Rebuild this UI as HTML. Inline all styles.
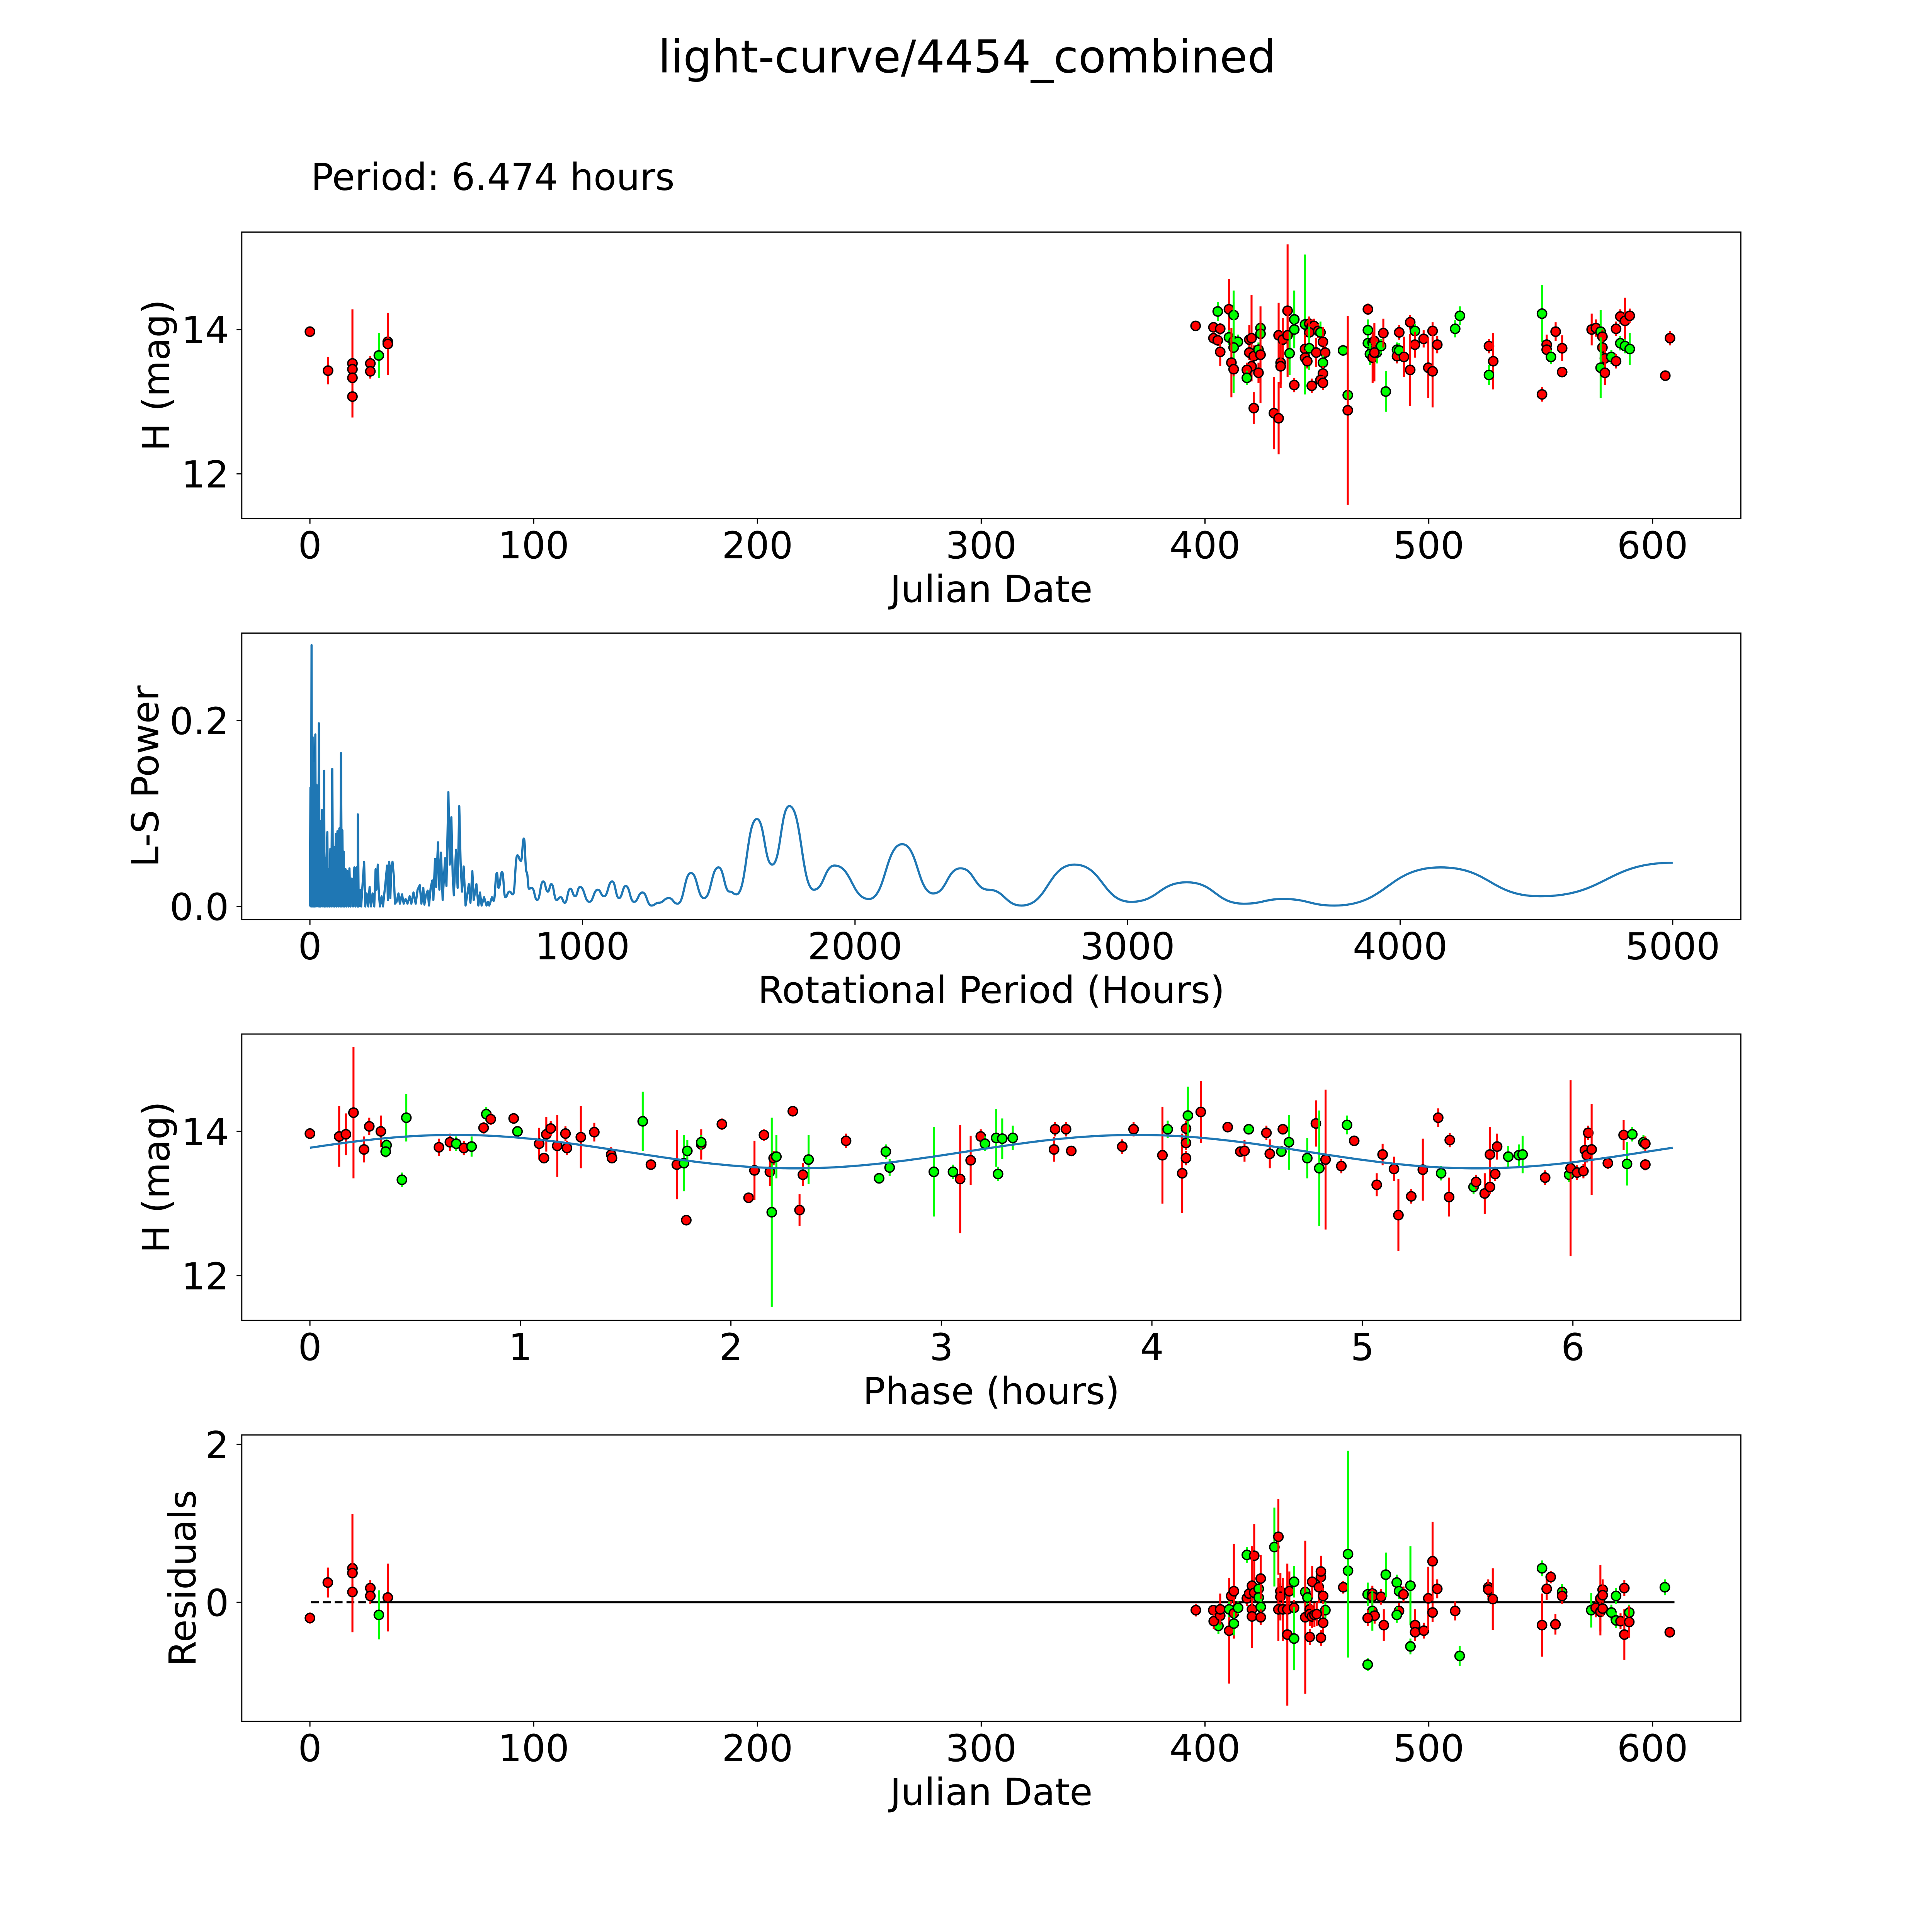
<!DOCTYPE html>
<html>
<head>
<meta charset="utf-8">
<style>
  html,body{margin:0;padding:0;background:#fff;width:5400px;height:5400px;overflow:hidden;}
  svg{display:block;overflow:hidden;}
  text{font-family:"DejaVu Sans","Liberation Sans",sans-serif;fill:#000;}
</style>
</head>
<body>
<svg id="fig" xmlns="http://www.w3.org/2000/svg" width="5400" height="5400" viewBox="0 0 5400 5400">
  <rect x="0" y="0" width="5400" height="5400" fill="#fff"/>
  <defs id="defs"><clipPath id="pageclip"><rect x="0" y="0" width="5400" height="5400"/></clipPath></defs>
  <g clip-path="url(#pageclip)">
  <g id="root" transform="scale(0.927)">
    <text x="2700" y="202" font-size="126" text-anchor="middle">light-curve/4454_combined</text>
    <text x="868" y="530" font-size="104">Period: 6.474 hours</text>
  </g>
  </g>
</svg>
<script>
// ---------------- DATA ----------------
// Panel 1: H magnitude vs Julian Date
const jdDates = [0,8.1,19,19,19,19,27,27,30.8,34.8,34.8,
395.8,403.8,405.7,406.8,403.8,405.7,406.8,410.7,412.8,410.7,412.8,414.7,412.8,411.8,412.8,419.8,420.8,419.8,421.8,420.8,418.7,418.7,421.8,424.8,424.8,423.9,424.8,423.9,430.8,432.9,432.9,434.8,436.9,436.9,433.8,433.8,437.8,439.9,439.9,439.9,444.7,446.6,447.7,448.7,446.6,444.7,446.6,444.7,445.7,449.7,450.6,451.6,452.7,453.7,452.7,452.7,451.6,452.7,447.7,461.7,463.8,463.8,472.8,472.8,472.8,474.9,475.7,473.7,474.9,476.8,475.7,478.7,479.7,480.8,485.8,486.8,485.8,486.8,488.9,491.7,493.8,493.8,491.7,497.7,499.8,501.7,501.7,503.8,511.8,513.9,526.9,528.8,526.9,550.6,550.6,552.7,552.7,554.6,556.7,559.6,559.6,572.8,574.7,576.8,577.6,577.6,578.7,576.8,578.7,581.6,583.7,583.7,585.6,587.7,589.8,585.6,587.7,589.8,605.7,607.8];
const jdMags = [13.97,13.43,13.53,13.45,13.33,13.07,13.53,13.42,13.64,13.83,13.80,
14.05,14.03,14.25,14.01,13.88,13.85,13.69,14.28,14.20,13.89,13.84,13.83,13.75,13.54,13.45,13.86,13.88,13.68,13.63,13.49,13.44,13.33,12.91,14.02,13.94,13.72,13.65,13.40,12.84,12.77,13.92,13.86,14.26,13.92,13.54,13.49,13.67,14.14,14.00,13.23,14.07,14.08,14.04,14.05,13.96,13.73,13.74,13.61,13.56,13.68,13.98,13.96,13.83,13.68,13.54,13.39,13.30,13.26,13.22,13.71,13.09,12.88,14.28,13.99,13.81,13.82,13.84,13.66,13.61,13.68,13.68,13.77,13.95,13.14,13.72,13.96,13.63,13.71,13.62,14.10,13.98,13.79,13.44,13.87,13.47,13.98,13.42,13.79,14.01,14.19,13.77,13.56,13.37,14.22,13.10,13.79,13.72,13.62,13.97,13.74,13.41,14.00,14.02,13.97,13.90,13.75,13.60,13.47,13.40,13.62,13.56,14.01,14.18,14.12,14.19,13.81,13.77,13.73,13.36,13.88];
const jdErrs = [0.05,0.19,0.75,0.1,0.1,0.1,0.1,0.1,0.31,0.1,0.43,
0.05,0.06,0.13,0.08,0.08,0.08,0.2,0.42,0.34,0.1,0.1,0.1,0.63,0.48,0.1,0.2,0.6,0.1,0.15,0.15,0.1,0.1,0.22,0.1,0.1,0.1,0.67,0.14,0.5,0.5,0.45,0.3,0.92,0.3,0.3,0.3,0.3,0.4,0.1,0.1,0.97,0.1,0.1,0.1,0.2,0.2,0.3,0.1,0.1,0.2,0.1,0.15,0.2,0.1,0.1,0.1,0.1,0.1,0.1,0.08,0.3,1.31,0.08,0.15,0.1,0.1,0.25,0.15,0.35,0.15,0.4,0.1,0.2,0.28,0.1,0.1,0.1,0.1,0.28,0.1,0.1,0.18,0.5,0.12,0.42,0.12,0.5,0.12,0.12,0.13,0.1,0.39,0.14,0.4,0.1,0.14,0.1,0.1,0.13,0.18,0.05,0.22,0.12,0.3,0.1,0.2,0.15,0.42,0.17,0.1,0.1,0.1,0.1,0.32,0.1,0.1,0.1,0.22,0.05,0.1];
const jdColors = "rrrrrrrrgrr"+"rrgrrrrrgggggrrrrrrrrgrgggrrrrrrrrrrgggrgrrrrrgrrrrgrrgrrrrggrrgggrgrgrgrggrrgrrgrrrrrrrggrrggrrrgrrrrrgrrrgrgrrrrrggg";

// Panel 2: Lomb-Scargle periodogram (period hours, power)
const lsPeriods = [0,2,4,6,8,10,12,14,16,18,20,22,24,26,28,30,33,36,38,40,43,45,48,50,52,54,56,59,61,64,66,69,72,75,78,82,85,88,91,95,98,101,104,108,111,114,117,119,122,124,128,131,134,138,142,145,149,154,158,163,167,171,175,176,179,184,188,195,199,203,208,214,219,224,230,236,241,244,249,253,257,263,268,273,278,283,286,291,295,299,303,308,312,318,325,330,338,344,351,358,366,372,380,388,395,403,409,416,420,425,432,437,443,449,453,459,463,470,475,481,487,496,501,508,513,519,524,528,536,542,548,553,558,564,571,577,583,589,596,601,611,618,624,630,639,648,654,658,668,674,686,692,705,717,732,745,761,774,785,795,804,814,834,856,873,886,905,920,935,955,973,991,1025,1056,1079,1109,1134,1159,1189,1220,1253,1280,1317,1349,1398,1446,1499,1540,1565,1640,1696,1759,1849,1925,2051,2173,2287,2387,2489,2611,2805,3012,3217,3426,3572,3759,4148,4513,5000];
const lsPower = [0,0.128,0,0.281,0,0.182,0,0.154,0,0.131,0.185,0,0.131,0.018,0.129,0,0.197,0,0.092,0,0.058,0.104,0,0.038,0.146,0,0.052,0,0.048,0.08,0,0.04,0,0.062,0,0.148,0,0.064,0,0.078,0,0.081,0,0.084,0,0.165,0,0.082,0,0.059,0,0.04,0,0.038,0,0.041,0,0.03,0,0.042,0,0.042,0,0.099,0,0.018,0,0.032,0.048,0,0.014,0,0.021,0,0.014,0,0.04,0.018,0.045,0.014,0,0.011,0,0.014,0.028,0.044,0.007,0.048,0.009,0.044,0.048,0.032,0.003,0.005,0.014,0.003,0.013,0.003,0.008,0.003,0.011,0.003,0.015,0.003,0.018,0.023,0.003,0.02,0.002,0.011,0.017,0.001,0.02,0.028,0.007,0.051,0.021,0.069,0.018,0.058,0.007,0.052,0.022,0.123,0.045,0.096,0.032,0.012,0.061,0.02,0.108,0.046,0.016,0.043,0.001,0.012,0.024,0.004,0.038,0.007,0.024,0.001,0.015,0.001,0.01,0.001,0.005,0.001,0.01,0.006,0.036,0.02,0.037,0.01,0.016,0.013,0.055,0.049,0.073,0.037,0.019,0.02,0.007,0.027,0.016,0.024,0.007,0.01,0.004,0.019,0.011,0.021,0.005,0.018,0.011,0.027,0.009,0.022,0.005,0.015,0.001,0.004,0.009,0.003,0.036,0.009,0.042,0.016,0.013,0.094,0.045,0.108,0.018,0.044,0.008,0.067,0.014,0.041,0.018,0.001,0.045,0.005,0.026,0.003,0.008,0.001,0.042,0.011,0.047];

// Panel 3: phase-folded
const phaseHours = [0.000,0.139,0.171,0.207,0.257,0.282,0.337,0.364,0.360,0.458,0.437,0.613,0.665,0.695,0.731,0.768,0.825,0.838,0.859,0.968,0.986,1.089,1.112,1.123,1.144,1.175,1.221,1.214,1.287,1.351,1.431,1.435,1.581,1.620,1.743,1.777,1.793,1.788,1.859,1.859,1.957,2.084,2.112,2.157,2.185,2.194,2.203,2.216,2.294,2.326,2.342,2.369,2.547,2.704,2.736,2.754,2.964,3.055,3.089,3.139,3.187,3.207,3.260,3.269,3.289,3.339,3.540,3.592,3.535,3.617,3.859,3.913,4.050,4.075,4.144,4.162,4.162,4.162,4.171,4.232,4.360,4.420,4.440,4.460,4.544,4.560,4.622,4.615,4.651,4.738,4.779,4.795,4.825,4.900,4.927,4.961,5.068,5.096,5.150,5.171,5.232,5.287,5.360,5.374,5.415,5.412,5.528,5.540,5.581,5.606,5.606,5.640,5.631,5.693,5.743,5.761,5.868,5.982,5.989,6.020,6.050,6.057,6.066,6.073,6.089,6.166,6.241,6.257,6.282,6.335,6.344,6.344];
const phaseMags = [13.97,13.93,13.96,14.26,13.75,14.07,14.00,13.81,13.72,14.19,13.33,13.78,13.85,13.83,13.77,13.79,14.05,14.24,14.17,14.18,14.00,13.83,13.63,13.96,14.04,13.80,13.77,13.97,13.92,13.99,13.68,13.63,14.14,13.54,13.54,13.56,13.73,12.77,13.82,13.85,14.10,13.08,13.46,13.95,13.44,12.88,13.63,13.65,14.28,12.91,13.40,13.61,13.87,13.35,13.72,13.50,13.44,13.44,13.34,13.60,13.93,13.83,13.91,13.41,13.90,13.91,14.03,14.03,13.75,13.73,13.79,14.03,13.67,14.03,13.42,14.04,13.84,13.63,14.22,14.27,14.06,13.72,13.73,14.03,13.98,13.69,14.03,13.72,13.85,13.63,14.11,13.49,13.61,13.52,14.09,13.87,13.26,13.68,13.48,12.84,13.10,13.47,14.19,13.42,13.88,13.09,13.23,13.30,13.14,13.23,13.68,13.79,13.41,13.65,13.67,13.68,13.36,13.40,13.49,13.43,13.45,13.74,13.67,13.98,13.75,13.56,13.95,13.55,13.96,13.85,13.83,13.54];
const phaseErrs = [0.04,0.42,0.29,0.91,0.18,0.12,0.22,0.08,0.08,0.33,0.1,0.12,0.12,0.1,0.1,0.14,0.08,0.1,0.08,0.05,0.05,0.22,0.05,0.24,0.1,0.43,0.1,0.1,0.43,0.13,0.1,0.05,0.41,0.05,0.48,0.39,0.15,0.06,0.21,0.1,0.08,0.05,0.41,0.08,0.2,1.31,0.1,0.3,0.04,0.22,0.16,0.34,0.1,0.05,0.1,0.12,0.62,0.1,0.75,0.34,0.1,0.1,0.4,0.1,0.28,0.17,0.1,0.1,0.17,0.05,0.1,0.1,0.67,0.12,0.55,0.1,0.1,0.1,0.4,0.43,0.05,0.05,0.15,0.05,0.1,0.2,0.05,0.05,0.38,0.28,0.32,0.8,0.97,0.1,0.13,0.06,0.16,0.15,0.17,0.5,0.1,0.43,0.13,0.1,0.1,0.27,0.1,0.1,0.28,0.1,0.38,0.18,0.1,0.15,0.15,0.26,0.1,0.1,1.22,0.1,0.1,0.3,0.1,0.1,0.63,0.08,0.21,0.3,0.1,0.1,0.1,0.08];
const phaseColors = "rrrrrrrggggrrgrgrgrrgrrrrrrrrrrrgrrggrrgrrrrrgrgrrrgrgggggrrrgggggrrrrrrrgrrrrgrrrrgrrrgggrgrrgrrrrrrrrgrrgrrrrrrgggrgrrrrrrrrrgggrrrrr";
// sinusoid fit parameters (mean mag, amplitude, phase offset hours, cycle length hours, period hours)
const fitMean = 13.72, fitAmp = 0.232, fitOffset = -0.12, fitCycle = 3.237, fitPeriod = 6.474;

// Panel 4: residuals vs Julian Date
const resDates = [0,8,19,19,19,27,27,30.8,34.8,
395.9,403.7,406,403.9,406.8,406.8,410.8,410.8,411.7,412.9,412.9,412.9,414.8,418.7,422,418.7,419.7,421,421,421,422,424,424,424.9,424.9,424.9,431,432.8,433.7,433.7,432.8,434.8,436.8,436.8,437.7,439.8,439.8,439.8,444.8,444.8,445.8,446.8,447.9,446.8,446.8,447.8,448.9,449.9,450.9,451.8,451.8,452.8,453.8,452.8,451.8,461.8,463.9,463.9,472.7,472.7,474.8,474.8,474.8,475.8,472.7,478.7,479.9,480.8,485.7,486.7,488.7,486.7,485.7,491.8,491.8,493.9,493.9,497.8,499.8,501.7,501.7,503.8,511.8,513.8,526.6,526.6,528.6,550.6,550.6,552.7,554.5,556.6,559.6,559.6,572.6,574.6,576.7,576.7,577.7,577.7,577.7,581.6,583.7,583.7,585.7,587.4,587.4,589.6,589.6,605.5,607.7];
const resValues = [-0.20,0.25,0.43,0.37,0.13,0.18,0.08,-0.16,0.06,
-0.10,-0.10,-0.30,-0.24,-0.17,-0.09,-0.36,-0.09,0.08,0.14,-0.14,-0.27,-0.07,0.60,0.59,0.05,0.11,0.21,-0.09,-0.18,0.12,0.17,0.06,0.30,-0.06,-0.19,0.70,0.83,0.14,0.07,-0.09,-0.09,-0.09,-0.41,0.14,0.26,-0.07,-0.46,0.13,-0.19,0.06,-0.09,0.26,-0.44,-0.15,-0.18,-0.16,-0.15,0.19,0.32,0.39,0.08,-0.10,-0.26,-0.45,0.19,0.40,0.61,-0.79,0.10,0.11,0.07,-0.11,-0.17,-0.20,0.07,-0.29,0.35,0.25,0.14,0.10,-0.11,-0.16,0.21,-0.56,-0.29,-0.38,-0.36,0.05,0.52,-0.13,0.17,-0.11,-0.68,0.19,0.16,0.04,0.43,-0.29,0.17,0.32,-0.28,0.13,0.08,-0.10,-0.07,0.05,-0.12,0.16,0.09,-0.08,-0.13,0.08,-0.23,-0.24,0.18,-0.41,-0.13,-0.25,0.19,-0.38];
const resErrs = [0.07,0.19,0.1,0.75,0.1,0.1,0.1,0.31,0.43,
0.08,0.05,0.1,0.1,0.1,0.2,0.67,0.1,0.1,0.6,0.1,0.15,0.08,0.1,0.4,0.1,0.1,0.5,0.1,0.4,0.1,0.1,0.1,0.3,0.1,0.1,0.5,0.48,0.1,0.3,0.4,0.4,0.3,0.9,0.25,0.2,0.1,0.4,0.2,0.97,0.1,0.1,0.2,0.1,0.15,0.15,0.15,0.15,0.2,0.1,0.2,0.1,0.1,0.2,0.1,0.08,0.3,1.31,0.08,0.15,0.1,0.1,0.25,0.1,0.1,0.1,0.2,0.28,0.1,0.1,0.1,0.1,0.1,0.5,0.1,0.2,0.1,0.1,0.4,0.5,0.12,0.12,0.12,0.13,0.1,0.1,0.39,0.1,0.4,0.14,0.08,0.13,0.1,0.1,0.22,0.12,0.42,0.3,0.1,0.2,0.1,0.1,0.1,0.1,0.1,0.1,0.32,0.1,0.2,0.1,0.05,0.1];
const resColors = "rrrrrrrgr"+"rrgrrrrgrrrgggrrrrrrrggrgrgrrrrrrrrgrggrgrrrrrrrrrrrgrrrggggrrgrrrrgggrrgggrrrrrrrrgrrrgrrrrgrgrrrrrrgggrrrgrgrg";

// x tick values
const dateTicks = [0,100,200,300,400,500,600];
const periodTicks = [0,1000,2000,3000,4000,5000];
const phaseTicks = [0,1,2,3,4,5,6];
const magTicks = [12,14];
const powerTicks = [0.0,0.2];
const powerTickLabels = ["0.0","0.2"];
const resTicks = [0,2];

// ---------------- RENDER ----------------
const NS = "http://www.w3.org/2000/svg";
const svg = document.getElementById('root');
const RED = "#ff0000", GREEN = "#00ff00", BLUE = "#1f77b4";
const X0 = 675, X1 = 4860, AH = 799.6;
const tops = [648, 1767.4, 2886.8, 4006.2];
const FS = 104;

function panel(i, xmin, xmax, ymin, ymax) {
  return {i:i, x0:X0, x1:X1, y0:tops[i], y1:tops[i]+AH, xmin:xmin, xmax:xmax, ymin:ymin, ymax:ymax};
}
function sx(p, v){ return p.x0 + (v - p.xmin)/(p.xmax - p.xmin)*(p.x1 - p.x0); }
function sy(p, v){ return p.y1 - (v - p.ymin)/(p.ymax - p.ymin)*(p.y1 - p.y0); }
function el(tag, parent){ const e = document.createElementNS(NS, tag); parent.appendChild(e); return e; }

const p1 = panel(0, -30.45, 639.45, 11.38, 15.35);
const p2 = panel(1, -250, 5250, -0.014, 0.294);
const p3 = panel(2, -0.3237, 6.7977, 11.38, 15.35);
const p4 = panel(3, -30.45, 639.45, -1.51, 2.12);

function frame(p, name, xticks, xlabels, yticks, ylabels, xtitle, ytitle, ytitleX){
  const g = el('g', svg);
  
  
  xticks.forEach((v, k) => {
    const x = sx(p, v);
    const t = el('line', g);
    
    
    t.setAttribute('x1', x); t.setAttribute('x2', x);
    t.setAttribute('y1', p.y1); t.setAttribute('y2', p.y1 + 14.6);
    t.setAttribute('stroke', '#000'); t.setAttribute('stroke-width', 3.3);
    const tx = el('text', g);
    
    
    tx.setAttribute('x', x); tx.setAttribute('y', p.y1 + 111);
    tx.setAttribute('font-size', FS); tx.setAttribute('text-anchor', 'middle');
    tx.textContent = xlabels[k];
  });
  yticks.forEach((v, k) => {
    const y = sy(p, v);
    const t = el('line', g);
    
    
    t.setAttribute('x1', p.x0 - 14.6); t.setAttribute('x2', p.x0);
    t.setAttribute('y1', y); t.setAttribute('y2', y);
    t.setAttribute('stroke', '#000'); t.setAttribute('stroke-width', 3.3);
    const tx = el('text', g);
    
    
    tx.setAttribute('x', p.x0 - 36); tx.setAttribute('y', y + 38);
    tx.setAttribute('font-size', FS); tx.setAttribute('text-anchor', 'end');
    tx.textContent = ylabels[k];
  });
  const xt = el('text', g);
  
  
  xt.setAttribute('x', (p.x0 + p.x1)/2); xt.setAttribute('y', p.y1 + 233);
  xt.setAttribute('font-size', FS); xt.setAttribute('text-anchor', 'middle');
  xt.textContent = xtitle;
  const yt = el('text', g);
  
  
  const cy = (p.y0 + p.y1)/2;
  yt.setAttribute('x', ytitleX); yt.setAttribute('y', cy);
  yt.setAttribute('transform', 'rotate(-90 ' + ytitleX + ' ' + cy + ')');
  yt.setAttribute('font-size', FS); yt.setAttribute('text-anchor', 'middle');
  yt.setAttribute('dominant-baseline', 'central');
  yt.textContent = ytitle;
}
function border(p, name){
  const r = el('rect', svg);
  
  
  r.setAttribute('x', p.x0); r.setAttribute('y', p.y0);
  r.setAttribute('width', p.x1 - p.x0); r.setAttribute('height', p.y1 - p.y0);
  r.setAttribute('fill', 'none'); r.setAttribute('stroke', '#000'); r.setAttribute('stroke-width', 3.3);
}

function errPoints(p, xs, ys, es, cols, name){
  const g = el('g', svg);
  
  
  for (let k = 0; k < xs.length; k++){
    const c = cols[k] === 'g' ? GREEN : RED;
    const x = sx(p, xs[k]);
    const top = Math.max(p.y0, sy(p, ys[k] + es[k]));
    const bot = Math.min(p.y1, sy(p, ys[k] - es[k]));
    const b = el('line', g);
    
    
    b.setAttribute('x1', x); b.setAttribute('x2', x);
    b.setAttribute('y1', bot); b.setAttribute('y2', top);
    b.setAttribute('stroke', c); b.setAttribute('stroke-width', 5.5);
    const m = el('circle', g);
    
    
    m.setAttribute('cx', x); m.setAttribute('cy', sy(p, ys[k]));
    m.setAttribute('r', 13); m.setAttribute('fill', c);
    m.setAttribute('stroke', '#000'); m.setAttribute('stroke-width', 3.8);
  }
}

const dateLabels = dateTicks.map(String);
// Panel 1
frame(p1, 'magnitude-vs-date', dateTicks, dateLabels, magTicks, magTicks.map(String), 'Julian Date', 'H (mag)', 437);
errPoints(p1, jdDates, jdMags, jdErrs, jdColors, 'magnitude-points');
border(p1, 'magnitude-vs-date');

// Panel 2
frame(p2, 'periodogram', periodTicks, periodTicks.map(String), powerTicks, powerTickLabels, 'Rotational Period (Hours)', 'L-S Power', 406);
(function(){
  let d = '';
  for (let k = 0; k < lsPeriods.length; k++){
    const x = sx(p2, lsPeriods[k]), y = sy(p2, lsPower[k]);
    if (k === 0){ d += 'M' + x.toFixed(1) + ' ' + y.toFixed(1); continue; }
    if (lsPeriods[k] <= 680){ d += ' L' + x.toFixed(1) + ' ' + y.toFixed(1); }
    else {
      const xp = sx(p2, lsPeriods[k-1]), yp = sy(p2, lsPower[k-1]);
      const dx = (x - xp)/2;
      d += ' C' + (xp+dx).toFixed(1) + ' ' + yp.toFixed(1) + ' ' + (x-dx).toFixed(1) + ' ' + y.toFixed(1) + ' ' + x.toFixed(1) + ' ' + y.toFixed(1);
    }
  }
  const path = el('path', svg);
  
  
  path.setAttribute('d', d);
  path.setAttribute('fill', 'none'); path.setAttribute('stroke', BLUE);
  path.setAttribute('stroke-width', 6); path.setAttribute('stroke-linejoin', 'round');
})();
border(p2, 'periodogram');

// Panel 3
frame(p3, 'phase-folded', phaseTicks, phaseTicks.map(String), magTicks, magTicks.map(String), 'Phase (hours)', 'H (mag)', 437);
errPoints(p3, phaseHours, phaseMags, phaseErrs, phaseColors, 'phase-points');
(function(){
  let d = '';
  const n = 400;
  for (let k = 0; k <= n; k++){
    const ph = fitPeriod * k / n;
    const m = fitMean + fitAmp * Math.sin(2*Math.PI*(ph - fitOffset)/fitCycle);
    d += (k ? ' L' : 'M') + sx(p3, ph).toFixed(1) + ' ' + sy(p3, m).toFixed(1);
  }
  const path = el('path', svg);
  
  
  path.setAttribute('d', d);
  path.setAttribute('fill', 'none'); path.setAttribute('stroke', BLUE); path.setAttribute('stroke-width', 6);
})();
border(p3, 'phase-folded');

// Panel 4
frame(p4, 'residuals', dateTicks, dateLabels, resTicks, resTicks.map(String), 'Julian Date', 'Residuals', 510);
(function(){
  const y0 = sy(p4, 0);
  const dash = el('line', svg);
  
  
  dash.setAttribute('x1', sx(p4, 0.5)); dash.setAttribute('x2', sx(p4, 27));
  dash.setAttribute('y1', y0); dash.setAttribute('y2', y0);
  dash.setAttribute('stroke', '#000'); dash.setAttribute('stroke-width', 5.5);
  dash.setAttribute('stroke-dasharray', '22 11');
  const solid = el('line', svg);
  
  
  solid.setAttribute('x1', sx(p4, 27)); solid.setAttribute('x2', sx(p4, 609.8));
  solid.setAttribute('y1', y0); solid.setAttribute('y2', y0);
  solid.setAttribute('stroke', '#000'); solid.setAttribute('stroke-width', 5.5);
})();
errPoints(p4, resDates, resValues, resErrs, resColors, 'residual-points');
border(p4, 'residuals');
</script>
</body>
</html>
